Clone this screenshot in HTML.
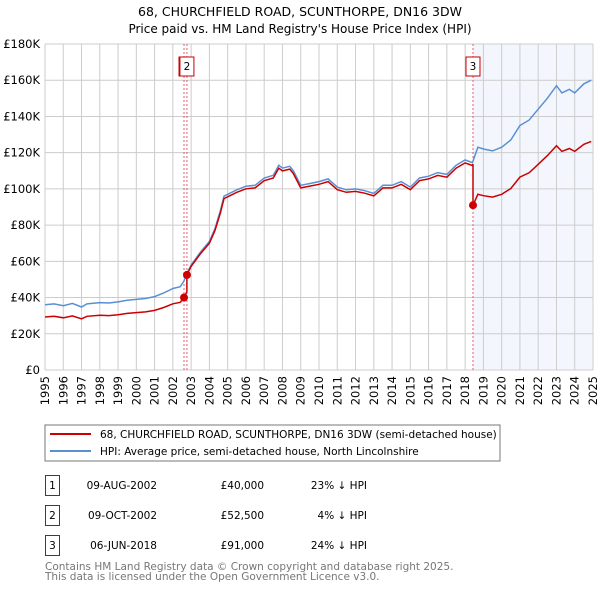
<!DOCTYPE html>
<html><head><meta charset="utf-8"><style>
body{margin:0;background:#fff;width:600px;height:590px;overflow:hidden;font-family:"DejaVu Sans","Liberation Sans",sans-serif;}
svg text{font-family:"DejaVu Sans","Liberation Sans",sans-serif;}
</style></head><body>
<svg id="chart" width="600" height="590" xmlns="http://www.w3.org/2000/svg">
<text x="300" y="16" text-anchor="middle" font-size="12.5">68, CHURCHFIELD ROAD, SCUNTHORPE, DN16 3DW</text>
<text x="300" y="33" text-anchor="middle" font-size="12">Price paid vs. HM Land Registry's House Price Index (HPI)</text>
<g id="plot"></g>
<g>
<rect x="45" y="425" width="455" height="36" fill="#fff" stroke="#777"/>
<line x1="50" y1="434" x2="91" y2="434" stroke="#cc0000" stroke-width="2"/>
<text x="100" y="438" font-size="10.5">68, CHURCHFIELD ROAD, SCUNTHORPE, DN16 3DW (semi-detached house)</text>
<line x1="50" y1="451" x2="91" y2="451" stroke="#5b8fd4" stroke-width="2"/>
<text x="100" y="455" font-size="10.5">HPI: Average price, semi-detached house, North Lincolnshire</text>
</g>
<g font-size="10.5">
<rect x="45.5" y="475.5" width="14" height="20" fill="none" stroke="#cc0000"/>
<text x="52.5" y="489" text-anchor="middle">1</text>
<text x="157" y="489" text-anchor="end">09-AUG-2002</text>
<text x="264" y="489" text-anchor="end">£40,000</text>
<text x="367" y="489" text-anchor="end">23% ↓ HPI</text>
<rect x="45.5" y="505.5" width="14" height="20" fill="none" stroke="#cc0000"/>
<text x="52.5" y="519" text-anchor="middle">2</text>
<text x="157" y="519" text-anchor="end">09-OCT-2002</text>
<text x="264" y="519" text-anchor="end">£52,500</text>
<text x="367" y="519" text-anchor="end">4% ↓ HPI</text>
<rect x="45.5" y="535.5" width="14" height="20" fill="none" stroke="#cc0000"/>
<text x="52.5" y="549" text-anchor="middle">3</text>
<text x="157" y="549" text-anchor="end">06-JUN-2018</text>
<text x="264" y="549" text-anchor="end">£91,000</text>
<text x="367" y="549" text-anchor="end">24% ↓ HPI</text>
</g>
<text x="45" y="570" font-size="10.5" fill="#777">Contains HM Land Registry data © Crown copyright and database right 2025.</text>
<text x="45" y="580" font-size="10.5" fill="#777">This data is licensed under the Open Government Licence v3.0.</text>
</svg>
<script>
const yTicks=[0,20000,40000,60000,80000,100000,120000,140000,160000,180000];
const yTickLabels=["£0","£20K","£40K","£60K","£80K","£100K","£120K","£140K","£160K","£180K"];
const xYears=[1995,1996,1997,1998,1999,2000,2001,2002,2003,2004,2005,2006,2007,2008,2009,2010,2011,2012,2013,2014,2015,2016,2017,2018,2019,2020,2021,2022,2023,2024,2025];
const hpiT=[1995,1995.5,1996,1996.5,1997,1997.3,1998,1998.5,1999,1999.5,2000,2000.5,2001,2001.5,2002,2002.4,2002.6,2002.8,2003,2003.5,2004,2004.3,2004.6,2004.8,2005,2005.5,2006,2006.5,2007,2007.5,2007.8,2008,2008.4,2008.6,2009,2009.5,2010,2010.5,2011,2011.5,2012,2012.5,2013,2013.5,2014,2014.5,2015,2015.5,2016,2016.5,2017,2017.5,2018,2018.4,2018.7,2019,2019.5,2020,2020.5,2021,2021.5,2022,2022.5,2023,2023.3,2023.7,2024,2024.5,2024.9];
const hpiV=[36000,36500,35500,36800,34800,36500,37200,37000,37600,38500,39000,39500,40500,42500,45000,46000,49000,54000,58000,65000,71000,78000,88000,96000,97000,99500,101500,102000,106000,107500,113000,111500,112500,110000,102000,103000,104000,105500,101000,99500,100000,99000,97500,102000,102000,104000,101000,106000,107000,109000,108000,113000,116000,114500,123000,122000,121000,123000,127000,135000,138000,144000,150000,157000,153000,155000,153000,158000,160000];
const saleT=[2002.61,2002.77,2018.43];
const saleV=[40000,52500,91000];
const saleLabels=["1","2","3"];

const X0=45,X1=593,Y0=370,Y1=44;
const sx=t=>X0+(t-1995)/30*(X1-X0);
const sy=v=>Y0-v/180000*(Y0-Y1);
const NS="http://www.w3.org/2000/svg";
const plot=document.getElementById('plot');
function mk(tag,attrs,parent){const e=document.createElementNS(NS,tag);for(const k in attrs)e.setAttribute(k,attrs[k]);(parent||plot).appendChild(e);return e;}
function hpiAt(t){for(let i=0;i<hpiT.length-1;i++){if(t<=hpiT[i+1]){const f=(t-hpiT[i])/(hpiT[i+1]-hpiT[i]);return hpiV[i]+f*(hpiV[i+1]-hpiV[i]);}}return hpiV[hpiV.length-1];}

let sh=mk('rect',{x:sx(saleT[2]),y:Y1,width:X1-sx(saleT[2]),height:Y0-Y1,fill:'#eef3fc',opacity:0.7});


yTicks.forEach((v,i)=>{
 const l=mk('line',{x1:X0,x2:X1,y1:sy(v),y2:sy(v),stroke:'#ccc'});
 
 
 const t=mk('text',{x:X0-5,y:sy(v)+4,'text-anchor':'end','font-size':'11.5'});
 t.textContent=yTickLabels[i];
 
 
});
xYears.forEach(y=>{
 const l=mk('line',{x1:sx(y),x2:sx(y),y1:Y1,y2:Y0,stroke:'#ccc'});
 
 
 const px=sx(y)+4, py=376;
 const t=mk('text',{x:px,y:py,'text-anchor':'end','font-size':'11.5',transform:'rotate(-90 '+px+' '+py+')'});
 t.textContent=y;
 
 
});
saleT.forEach(t=>{
 const l=mk('line',{x1:sx(t),x2:sx(t),y1:Y1,y2:Y0,stroke:'#e06070','stroke-dasharray':'2,2'});
 
 
});
let d='';hpiT.forEach((t,i)=>{d+=(i?'L':'M')+sx(t).toFixed(1)+','+sy(hpiV[i]).toFixed(1);});
const hp=mk('path',{d:d,fill:'none',stroke:'#5b8fd4','stroke-width':1.5});


const ts=hpiT.slice();saleT.forEach(t=>{ts.push(t-0.001);ts.push(t);});ts.sort((a,b)=>a-b);
let pd='';ts.forEach((t,i)=>{
 let r=saleV[0]/hpiAt(saleT[0]);
 for(let k=0;k<saleT.length;k++){if(t>=saleT[k])r=saleV[k]/hpiAt(saleT[k]);}
 pd+=(i?'L':'M')+sx(t).toFixed(1)+','+sy(hpiAt(t)*r).toFixed(1);
});
const pp=mk('path',{d:pd,fill:'none',stroke:'#cc0000','stroke-width':1.5});


saleT.forEach((t,i)=>{
 const c=mk('circle',{cx:sx(t),cy:sy(saleV[i]),r:4,fill:'#cc0000'});
 
 
 const g=mk('g',{});
 
 
 mk('rect',{x:(i==0?sx(t)-5:sx(t)-7),y:57,width:14,height:19,fill:'#fff',stroke:'#cc0000'},g);
 const tx=mk('text',{x:(i==0?sx(t)+2:sx(t)),y:70,'text-anchor':'middle','font-size':'10.5'},g);
 tx.textContent=saleLabels[i];
});
</script>
</body></html>
